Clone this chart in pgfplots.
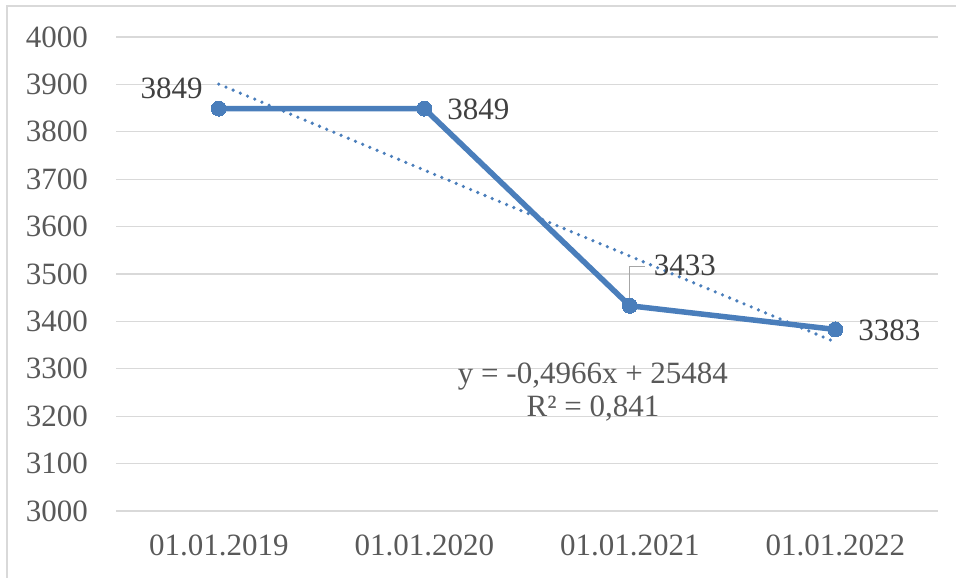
\documentclass[border=0pt]{standalone}
\usepackage{pgfplots}
\pgfplotsset{compat=1.18}
\usepackage{fontspec}
\setmainfont{Liberation Serif}
\definecolor{lineblue}{HTML}{4A7EBB}
\definecolor{gridgray}{HTML}{D9D9D9}
\definecolor{txtgray}{HTML}{595959}
\definecolor{lblgray}{HTML}{404040}
\begin{document}
\begin{tikzpicture}
\useasboundingbox (0,0) rectangle (956pt,578pt);
\draw[gridgray, line width=1.5pt] (7pt,0pt) -- (7pt,572pt) -- (956pt,572pt);
\begin{axis}[
  at={(116pt,67pt)}, anchor=south west,
  scale only axis, width=822pt, height=474pt,
  xmin=-0.5, xmax=3.5, ymin=3000, ymax=4000,
  ytick distance=100,
  xtick={0,1,2,3},
  xticklabels={01.01.2019,01.01.2020,01.01.2021,01.01.2022},
  ymajorgrids, grid style={gridgray, line width=1.2pt},
  axis line style={draw=none},
  major tick length=0pt,
  /pgf/number format/assume math mode=true,
  /pgf/number format/1000 sep={},
  tick label style={font=\fontsize{31}{37}\selectfont, text=txtgray, inner sep=0pt},
  yticklabel style={anchor=east, xshift=-28pt},
  xticklabel style={anchor=north, yshift=-24pt},
  clip=false,
]
\addplot[lineblue, line width=3.6pt, line cap=round, dash pattern=on 0pt off 7.8pt] coordinates {(0,3900.6) (3,3356.4)};
\addplot[lineblue, line width=5.5pt, mark=*, mark size=7.5pt, mark options={solid, fill=lineblue, draw=lineblue, line width=0pt}] coordinates {(0,3849) (1,3849) (2,3433) (3,3383)};
\draw[gray!70, line width=1pt] (axis cs:2,3433) ++(0pt,5pt) -- ++(0pt,34pt) -- ++(15pt,0pt);
\begin{scope}[every node/.style={font=\fontsize{31}{37}\selectfont, text=lblgray, inner sep=0pt}]
\node at (axis cs:0,3849) [xshift=-47pt, yshift=20.6pt] {3849};
\node at (axis cs:1,3849) [xshift=54pt, yshift=-1pt] {3849};
\node at (axis cs:2,3433) [xshift=55pt, yshift=40pt] {3433};
\node at (axis cs:3,3383) [xshift=54pt, yshift=-0.5pt] {3383};
\end{scope}
\begin{scope}[every node/.style={font=\fontsize{31}{37}\selectfont, text=txtgray, inner sep=0pt}]
\node at (axis cs:1.821,3283) {y = -0,4966x + 25484};
\node at (axis cs:1.821,3217) {R² = 0,841};
\end{scope}
\end{axis}
\end{tikzpicture}
\end{document}
